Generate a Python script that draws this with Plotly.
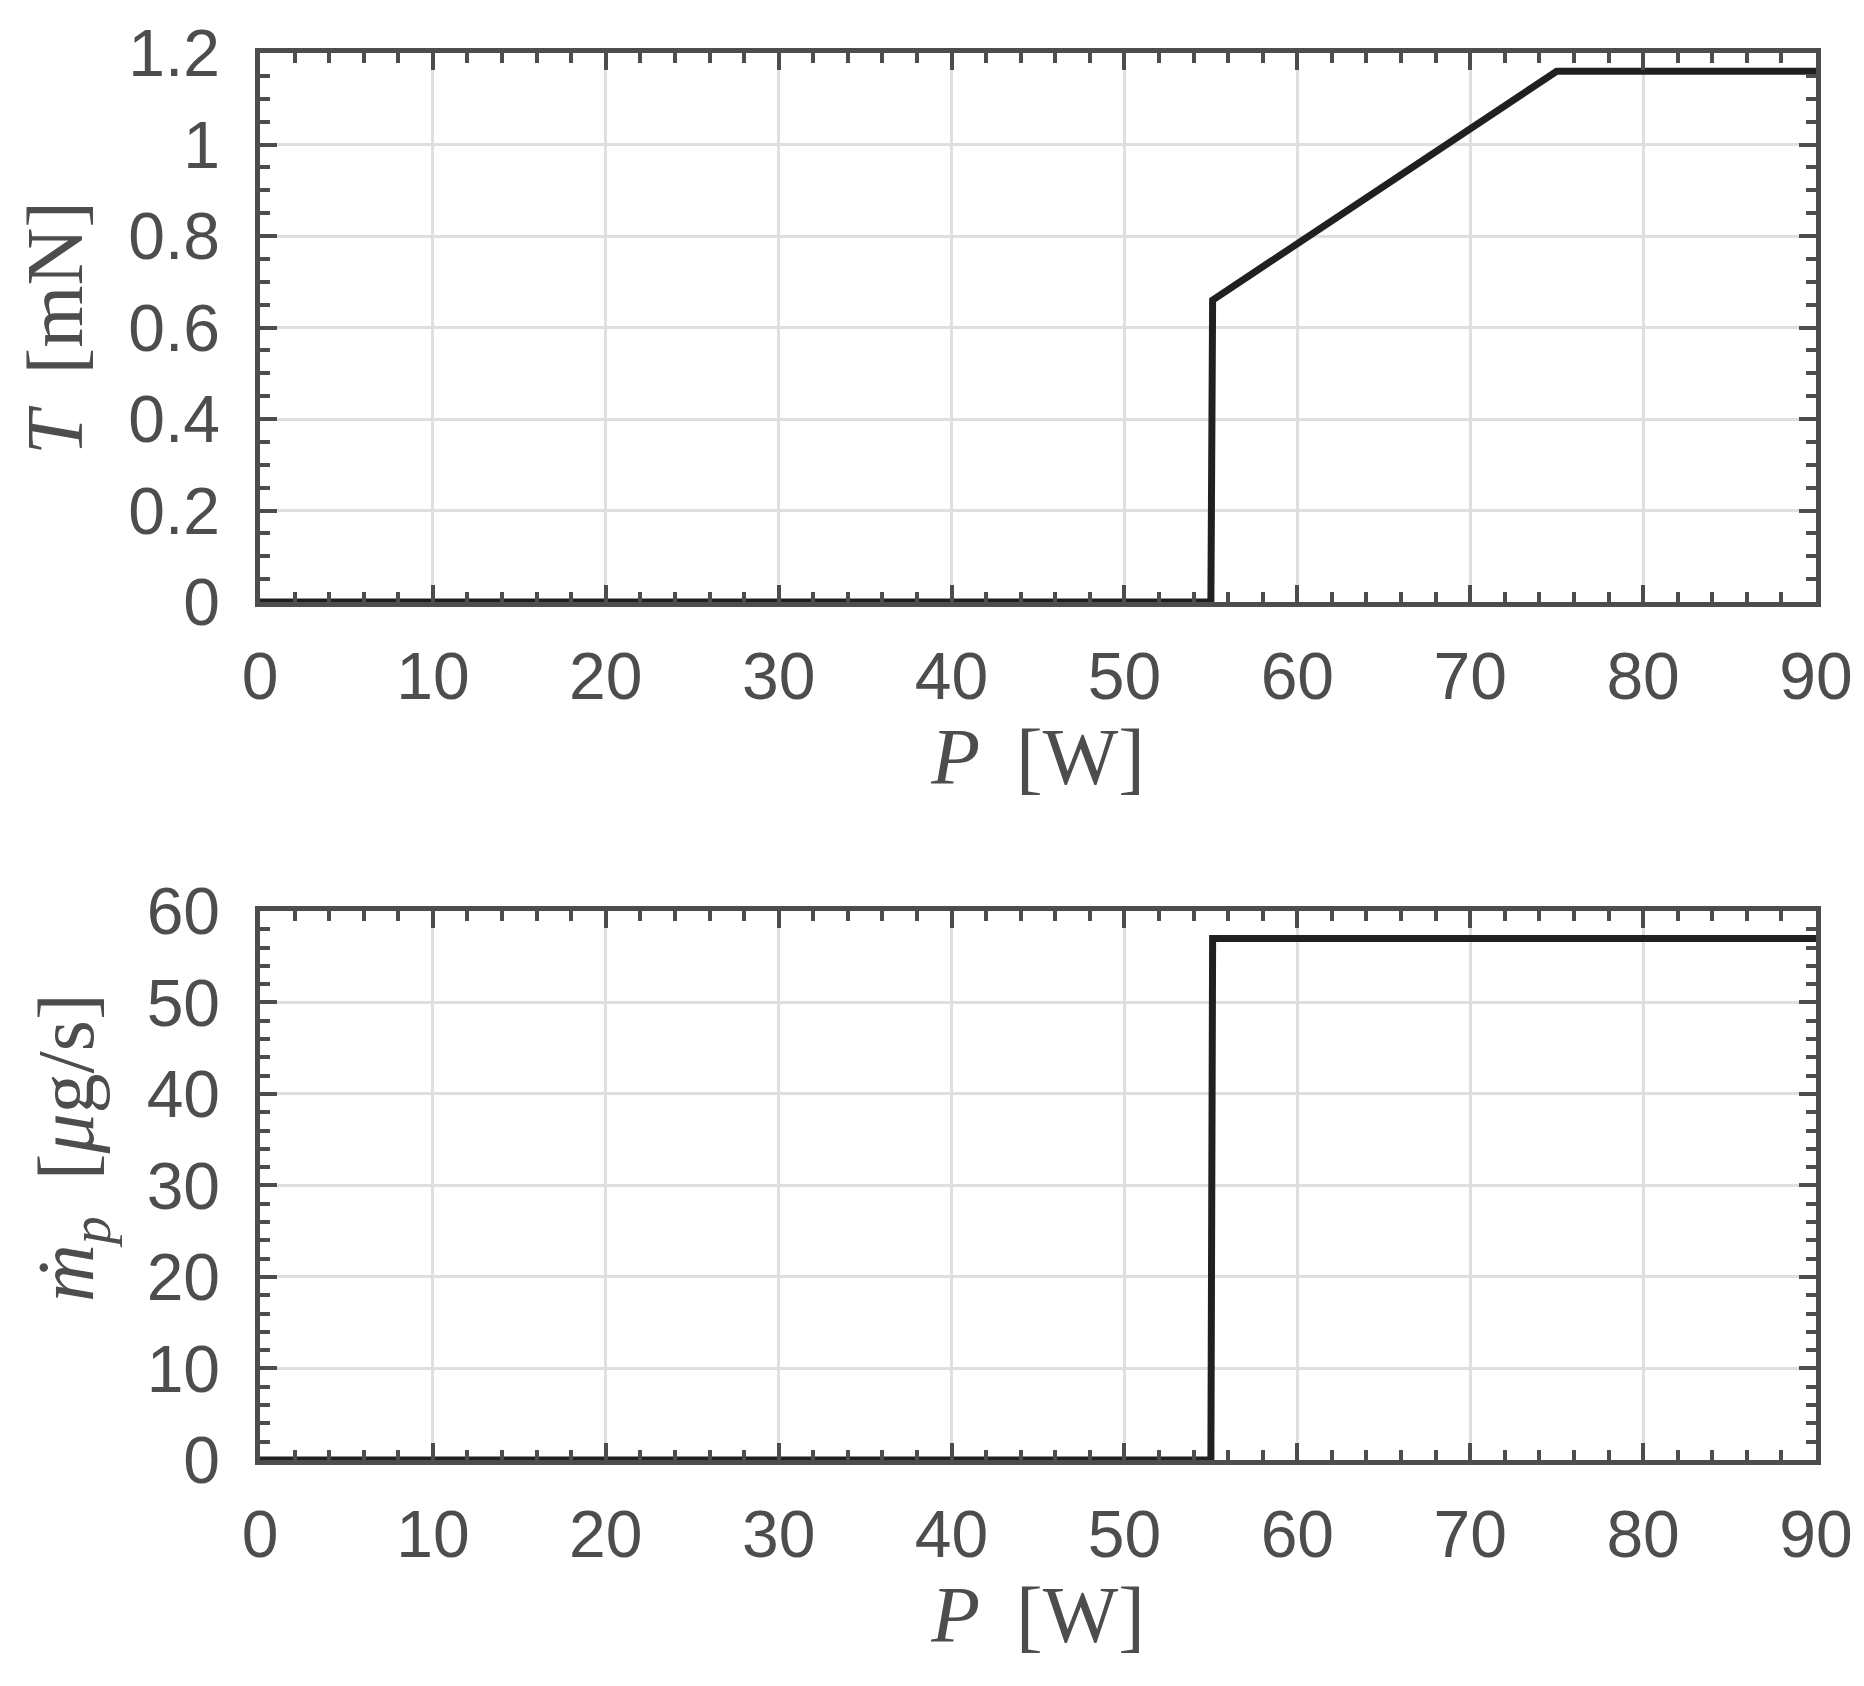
import plotly.graph_objects as go
from plotly.subplots import make_subplots

# Data
P_thrust = [0, 55.0, 55.1, 75.0, 90]
T_mN = [0, 0, 0.66, 1.16, 1.16]

P_mdot = [0, 55.0, 55.1, 90]
mdot_ugs = [0, 0, 57, 57]

x_ticks = [0, 10, 20, 30, 40, 50, 60, 70, 80, 90]
y1_ticks = [0, 0.2, 0.4, 0.6, 0.8, 1, 1.2]
y1_labels = ["0", "0.2", "0.4", "0.6", "0.8", "1", "1.2"]
y2_ticks = [0, 10, 20, 30, 40, 50, 60]

AX = "#4d4d4f"
LINE = "#231f20"
GRID = "#dfdfe1"
TICKFONT = dict(family="Liberation Sans, Arial, sans-serif", size=66, color=AX)
TITLEFONT = dict(family="Liberation Serif, Times New Roman, serif", size=80, color=AX)

W, H = 1864, 1686
ML, MR, MT, MB = 252, 56, 45, 234
PW, PH = W - ML - MR, H - MT - MB

fig = make_subplots(rows=2, cols=1, vertical_spacing=0.2196)

fig.add_trace(go.Scatter(x=P_thrust, y=T_mN, mode="lines", cliponaxis=False,
                         line=dict(color=LINE, width=7), showlegend=False), row=1, col=1)
fig.add_trace(go.Scatter(x=P_mdot, y=mdot_ugs, mode="lines", cliponaxis=False,
                         line=dict(color=LINE, width=7), showlegend=False), row=2, col=1)

xcommon = dict(range=[0, 90], tickvals=x_ticks, ticktext=[str(v) for v in x_ticks],
               showline=True, linecolor=AX, linewidth=4.5, mirror="allticks",
               ticks="inside", ticklen=17, tickwidth=4, tickcolor=AX,
               showgrid=True, gridcolor=GRID, gridwidth=3, zeroline=False,
               tickfont=TICKFONT, ticklabelstandoff=13, automargin=False,
               minor=dict(dtick=2, tick0=0, ticks="inside", ticklen=10, tickwidth=4,
                          tickcolor=AX, showgrid=False),
               title=dict(text="<i>P</i>\u2009 [W]", font=TITLEFONT, standoff=12))

fig.update_xaxes(**xcommon, row=1, col=1)
fig.update_xaxes(**xcommon, row=2, col=1)

ycommon = dict(showline=True, linecolor=AX, linewidth=4.5, mirror="allticks",
               ticks="inside", ticklen=17, tickwidth=4, tickcolor=AX,
               showgrid=True, gridcolor=GRID, gridwidth=3, zeroline=False,
               tickfont=TICKFONT, ticklabelstandoff=22, automargin=False)

fig.update_yaxes(**ycommon, range=[0, 1.2], tickvals=y1_ticks, ticktext=y1_labels,
                 minor=dict(dtick=0.05, tick0=0, ticks="inside", ticklen=10, tickwidth=4,
                            tickcolor=AX, showgrid=False),
                 row=1, col=1)
fig.update_yaxes(**ycommon, range=[0, 60], tickvals=y2_ticks,
                 ticktext=[str(v) for v in y2_ticks],
                 minor=dict(dtick=2, tick0=0, ticks="inside", ticklen=10, tickwidth=4,
                            tickcolor=AX, showgrid=False),
                 row=2, col=1)


def px_to_paper(xp, yp):
    return (xp - ML) / PW, (H - MB - yp) / PH


ax1, ay1 = px_to_paper(47, 320)
ax2, ay2 = px_to_paper(64, 1140)
fig.add_annotation(text="<i>T</i>\u2009 [mN]", x=ax1, y=ay1, xref="paper", yref="paper",
                   xanchor="center", yanchor="middle", textangle=-90,
                   showarrow=False, font=TITLEFONT)
fig.add_annotation(text="<i>ṁ</i><sub><i>p</i></sub>\u2009 [<i>μ</i>g/s]", x=ax2, y=ay2,
                   xref="paper", yref="paper",
                   xanchor="center", yanchor="middle", textangle=-90,
                   showarrow=False, font=TITLEFONT)

fig.update_layout(width=W, height=H, paper_bgcolor="white", plot_bgcolor="white",
                  margin=dict(l=ML, r=MR, t=MT, b=MB), showlegend=False)

fig.write_html("out.html")
